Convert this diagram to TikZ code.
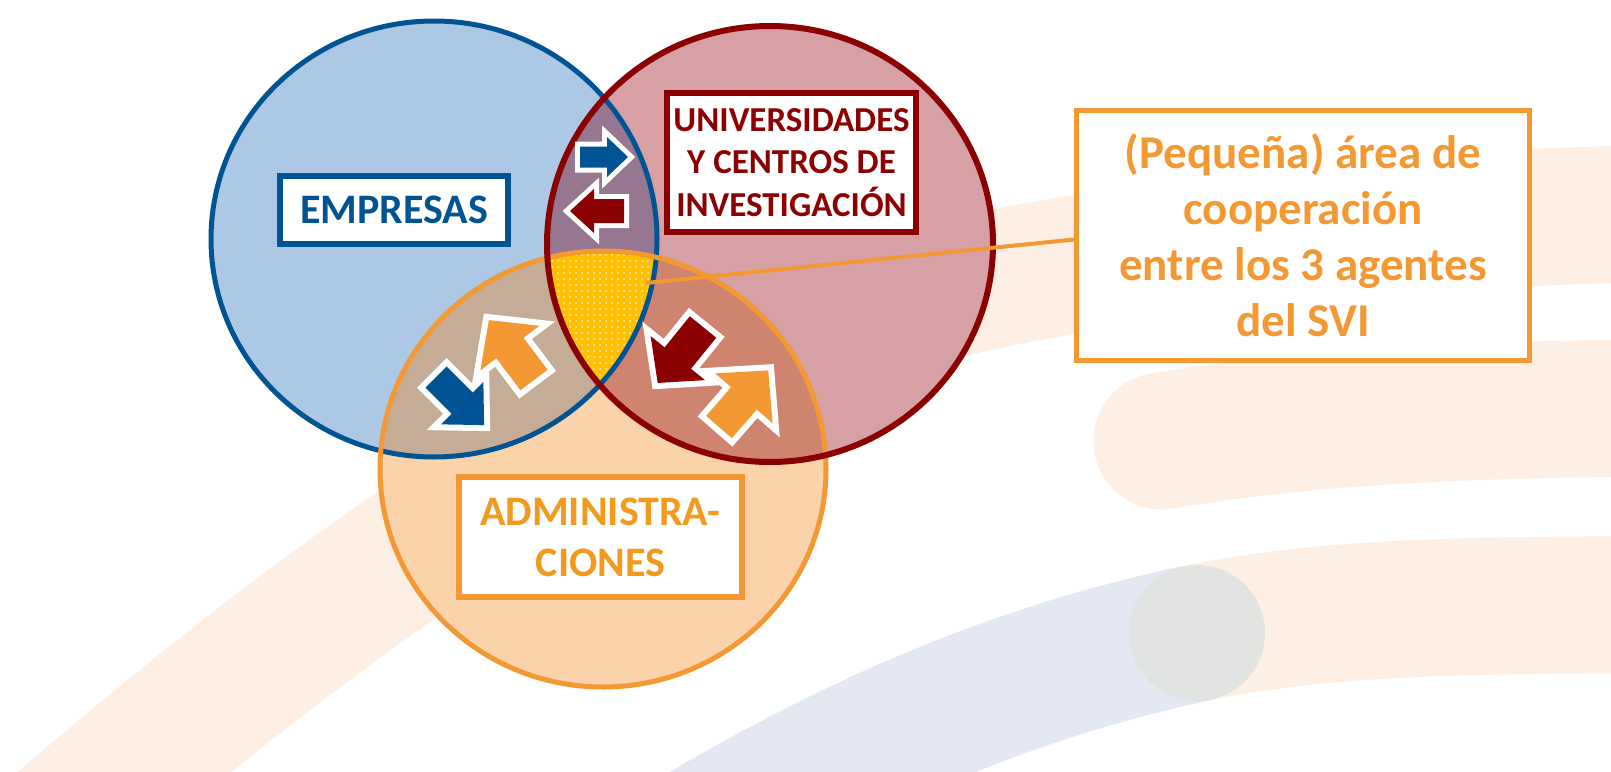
\documentclass[tikz,border=0pt]{standalone}
\usepackage{fontspec}
\setmainfont{Carlito}
\usetikzlibrary{patterns.meta}
\definecolor{cblue}{RGB}{0,84,147}
\definecolor{cred}{RGB}{139,0,0}
\definecolor{corange}{RGB}{243,152,51}
\definecolor{ctext}{RGB}{243,154,30}
\definecolor{fB}{RGB}{172,200,228}
\definecolor{fR}{RGB}{214,160,164}
\definecolor{fO}{RGB}{251,211,170}
\definecolor{fBR}{RGB}{150,118,145}
\definecolor{fBO}{RGB}{196,172,150}
\definecolor{fRO}{RGB}{207,132,112}
\definecolor{cyellow}{RGB}{255,192,0}
\definecolor{bgor}{RGB}{253,239,228}
\definecolor{bgbl}{RGB}{228,232,242}
\definecolor{bggr}{RGB}{226,228,226}
\newcommand{\barr}[9]{%
\begin{scope}[shift={(#1,#2)},rotate=#3]
\draw[white,fill=white,line width=#9pt,line join=miter] (0,-#7)--(#4-#5,-#7)--(#4-#5,-#6)--(#4,0)--(#4-#5,#6)--(#4-#5,#7)--(0,#7)--cycle;
\fill[#8] (0,-#7)--(#4-#5,-#7)--(#4-#5,-#6)--(#4,0)--(#4-#5,#6)--(#4-#5,#7)--(0,#7)--cycle;
\end{scope}}
\begin{document}
\begin{tikzpicture}[x=1pt,y=-1pt,
  lbl/.style={draw, fill=white, inner sep=0pt, align=center},
  band/.style={line width=137pt},
  ell/.style={x radius=223pt, y radius=218pt}]
\useasboundingbox (0,0) rectangle (1611,771);
\fill[white] (0,0) rectangle (1611,771);
% background bands
\begin{scope}
\clip (0,0) rectangle (1611,771);
\draw[band,bgor] (30,852) .. controls (441,493) and (741,328) .. (1010,276) .. controls (1206,238) and (1450,215) .. (1700,213);
\draw[band,bgor,line cap=round] (1162,441) .. controls (1300,418) and (1450,408) .. (1700,408);
\draw[band,bgor] (1197,633) .. controls (1320,608) and (1450,604) .. (1700,605);
\draw[band,bgbl] (1197,633) .. controls (1050,665) and (880,720) .. (640,870);
\fill[bggr] (1197,633) circle [radius=68pt];
\end{scope}
% ellipse regions
\fill[fB] (434,239) ellipse [ell];
\fill[fR] (770,244) ellipse [ell];
\fill[fO] (603,469) ellipse [ell];
\begin{scope}
\clip (434,239) ellipse [ell];
\fill[fBR] (770,244) ellipse [ell];
\fill[fBO] (603,469) ellipse [ell];
\end{scope}
\begin{scope}
\clip (770,244) ellipse [ell];
\fill[fRO] (603,469) ellipse [ell];
\end{scope}
\begin{scope}
\clip (434,239) ellipse [ell];
\clip (770,244) ellipse [ell];
\fill[cyellow] (603,469) ellipse [ell];
\fill[pattern={Dots[distance=6pt, radius=1pt]}, pattern color=white!75!cyellow] (603,469) ellipse [ell];
\end{scope}
\draw[cblue, line width=5pt] (434,239) ellipse [ell];
\draw[corange, line width=5pt] (603,469) ellipse [ell];
\draw[cred, line width=6pt] (770,244) ellipse [ell];
% arrows
\barr{580}{157}{0}{48}{21}{20}{10.5}{cblue}{10}
\barr{624}{211}{180}{54}{24}{22}{12}{cred}{10}
\barr{436}{377}{-45}{68}{31}{30}{15}{cblue}{12}
\barr{534}{380}{127}{75}{35}{37}{17}{corange}{12}
\barr{703}{327}{231}{72}{32}{35}{17}{cred}{12}
\barr{719}{427}{49}{75}{37}{38}{17}{corange}{12}
% labels
\node[lbl, draw=cblue, text=cblue, line width=6pt, minimum width=228pt, minimum height=68pt,
  font=\fontsize{42}{50}\selectfont\bfseries] (emp) at (394,210) {EMPRESAS};
\node[lbl, draw=cred, text=cred, line width=6pt, minimum width=249pt, minimum height=139pt,
  font=\fontsize{35}{42.5}\selectfont\bfseries] (uni) at (791.5,162.5) {UNIVERSIDADES\\Y CENTROS DE\\INVESTIGACIÓN};
\node[lbl, draw=corange, text=ctext, line width=6pt, minimum width=283pt, minimum height=120pt,
  font=\fontsize{42}{51}\selectfont\bfseries] (adm) at (600.5,537) {ADMINISTRA-\\CIONES};
\node[lbl, draw=corange, text=corange, line width=5pt, minimum width=453pt, minimum height=250pt,
  font=\fontsize{47}{56}\selectfont\bfseries] (coopbox) at (1303,235.5) {(Pequeña) área de\\cooperación\\entre los 3 agentes\\del SVI};
\coordinate (coop) at (646,283);
\draw[corange, line width=4pt] (coop) -- ([yshift=-4pt]coopbox.west);
\end{tikzpicture}
\end{document}
